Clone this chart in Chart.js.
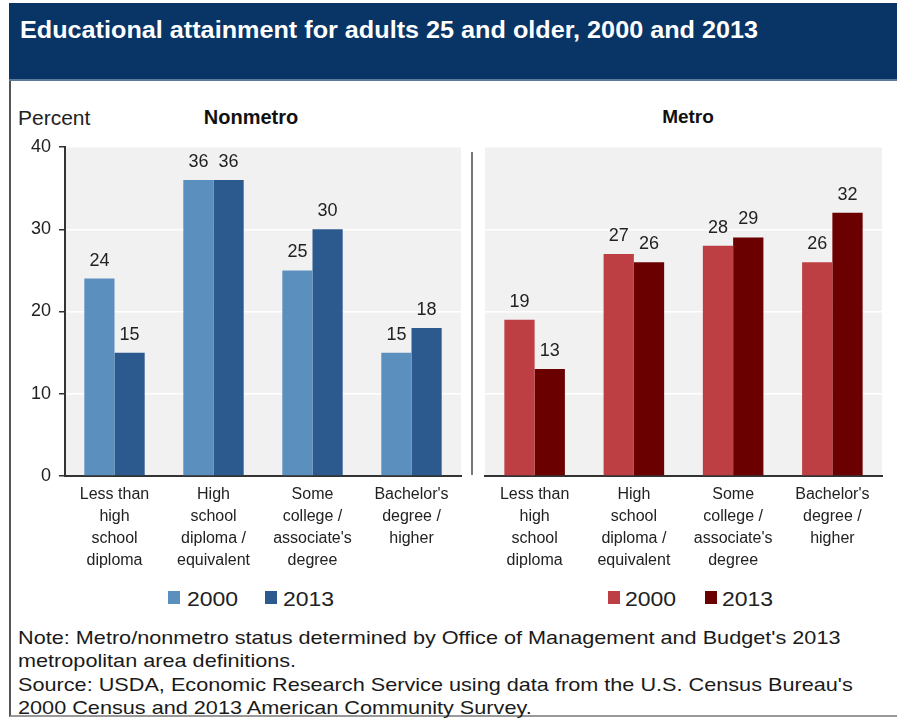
<!DOCTYPE html>
<html>
<head>
<meta charset="utf-8">
<script src="https://cdn.jsdelivr.net/npm/chart.js@4.4.1/dist/chart.umd.min.js"></script>
<style>
  html, body { margin: 0; padding: 0; }
  body {
    width: 897px; height: 721px; overflow: hidden; position: relative;
    background: #fff; color: #222;
    font-family: "Liberation Sans", Arial, sans-serif;
  }
  #frame {
    position: absolute; left: 9px; top: 3px; width: 888px; height: 714px;
    border-left: 2px solid #555; border-bottom: 2px solid #999; box-sizing: border-box;
  }
  #banner {
    position: absolute; left: 9px; top: 3px; width: 888px; height: 78px;
    background: #083565; border-bottom: 2px solid #5c7a9c; box-sizing: border-box;
  }
  #title {
    position: absolute; left: 20px; top: 16px; color: #fff;
    font-weight: bold; font-size: 24px; white-space: nowrap;
    transform: scaleX(1.05); transform-origin: 0 0;
  }
  .txt { position: absolute; white-space: nowrap; }
  .panel-title { font-weight: bold; font-size: 20px; color: #111; transform: translateX(-50%); }
  #sep { position: absolute; left: 471px; top: 152px; width: 2px; height: 323px; background: #777; }
  .wrap { position: absolute; top: 128px; height: 452px; }
  .legend { position: absolute; top: 588px; font-size: 20px; color: #222; }
  .legend span.sw { position: absolute; top: 3px; width: 12px; height: 13px; }
  .legend span.lab { position: absolute; top: 0; white-space: nowrap; transform: scaleX(1.15); transform-origin: 0 0; }
  #notes {
    position: absolute; left: 18px; top: 626px; font-size: 19px; line-height: 23.4px;
    color: #1a1a1a; white-space: nowrap; transform: scaleX(1.14); transform-origin: 0 0;
  }
</style>
</head>
<body>
<div id="frame"></div>
<div id="banner"></div>
<div id="title">Educational attainment for adults 25 and older, 2000 and 2013</div>

<div class="txt" style="left:18px; top:106px; font-size:21px;">Percent</div>
<div class="txt panel-title" style="left:251px; top:106px;">Nonmetro</div>
<div class="txt panel-title" style="left:688px; top:106px; font-size:19px;">Metro</div>

<div class="wrap" style="left:0; width:470px;"><canvas id="nonmetro"></canvas></div>
<div id="sep"></div>
<div class="wrap" style="left:470px; width:427px;"><canvas id="metro"></canvas></div>

<div class="legend">
  <span class="sw" style="left:168px; background:#5b8fbd"></span><span class="lab" style="left:187px;">2000</span>
  <span class="sw" style="left:265px; background:#2d5a8e"></span><span class="lab" style="left:283px;">2013</span>
  <span class="sw" style="left:608px; background:#bd3f43"></span><span class="lab" style="left:625px;">2000</span>
  <span class="sw" style="left:705px; background:#6a0000"></span><span class="lab" style="left:722px;">2013</span>
</div>

<div id="notes">
  Note: Metro/nonmetro status determined by Office of Management and Budget's 2013<br>
  metropolitan area definitions.<br>
  Source: USDA, Economic Research Service using data from the U.S. Census Bureau's<br>
  2000 Census and 2013 American Community Survey.
</div>

<script>
// Education categories (multi-line axis labels)
const categories = [
  ['Less than', 'high', 'school', 'diploma'],
  ['High', 'school', 'diploma /', 'equivalent'],
  ['Some', 'college /', "associate's", 'degree'],
  ["Bachelor's", 'degree /', 'higher']
];
const years = ['2000', '2013'];

// Percent of adults 25+ by highest attainment
const nonmetro2000 = [24, 36, 25, 15];
const nonmetro2013 = [15, 36, 30, 18];
const metro2000 = [19, 27, 28, 26];
const metro2013 = [13, 26, 29, 32];

const yTicks = [0, 10, 20, 30, 40];

const FONT = '"Liberation Sans", Arial, sans-serif';
const INK = '#222';

// Light gray plotting field behind the bars
const plotBackground = {
  id: 'plotBackground',
  beforeDraw(chart) {
    const { ctx, chartArea: a } = chart;
    ctx.save();
    ctx.fillStyle = '#f1f1f1';
    ctx.fillRect(a.left, a.top, a.right - a.left, a.bottom - a.top);
    ctx.restore();
  }
};

// Value printed above every bar
const barValues = {
  id: 'barValues',
  afterDatasetsDraw(chart) {
    const { ctx } = chart;
    ctx.save();
    ctx.font = '18px ' + FONT;
    ctx.fillStyle = INK;
    ctx.textAlign = 'center';
    ctx.textBaseline = 'bottom';
    chart.data.datasets.forEach((ds, i) => {
      chart.getDatasetMeta(i).data.forEach((el, j) => {
        ctx.fillText(String(ds.data[j]), el.x, el.y - 9);
      });
    });
    ctx.restore();
  }
};

function makeChart(id, series, colors, showY, padding, yWidth) {
  return new Chart(document.getElementById(id), {
    type: 'bar',
    data: {
      labels: categories,
      datasets: series.map((d, i) => ({
        label: years[i],
        data: d,
        backgroundColor: colors[i],
        borderWidth: 0,
        categoryPercentage: 0.61,
        barPercentage: 1.0
      }))
    },
    options: {
      responsive: true,
      maintainAspectRatio: false,
      animation: false,
      layout: { padding },
      plugins: { legend: { display: false }, tooltip: { enabled: false } },
      scales: {
        x: {
          grid: { display: false, drawTicks: false },
          border: { display: true, color: '#333', width: 2 },
          ticks: {
            color: INK, font: { family: FONT, size: 16, lineHeight: 1.37 },
            padding: 8, maxRotation: 0, autoSkip: false
          },
          afterFit(s) { s.height = 104; s.paddingLeft = 0; s.paddingRight = 0; }
        },
        y: {
          min: 0, max: 40,
          afterBuildTicks(s) { s.ticks = yTicks.map(v => ({ value: v })); },
          grid: {
            color: '#ffffff', lineWidth: 1.5,
            drawTicks: showY, tickLength: 6, tickColor: '#333'
          },
          border: { display: showY, color: '#333', width: 2 },
          ticks: {
            display: showY, color: INK, font: { family: FONT, size: 18 }, padding: 8
          },
          afterFit(s) { s.width = yWidth; s.paddingTop = 0; s.paddingBottom = 0; }
        }
      }
    },
    plugins: [plotBackground, barValues]
  });
}

makeChart('nonmetro', [nonmetro2000, nonmetro2013], ['#5b8fbd', '#2d5a8e'], true,
  { top: 19, right: 9, left: 0, bottom: 0 }, 65);
makeChart('metro', [metro2000, metro2013], ['#bd3f43', '#6a0000'], false,
  { top: 19, right: 15, left: 15, bottom: 0 }, 0);
</script>
</body>
</html>
